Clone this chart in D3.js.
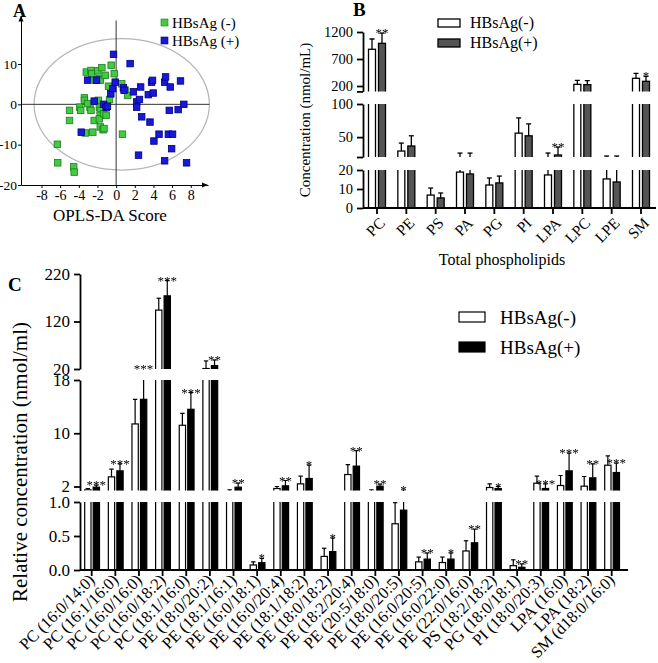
<!DOCTYPE html>
<html><head><meta charset="utf-8">
<script src="https://cdn.jsdelivr.net/npm/d3@7"></script>
<style>
body{margin:0;background:#fff}
svg{display:block}
text{font-family:"Liberation Serif","Times New Roman",serif;fill:#000}
.stars{filter:grayscale(100%)}
</style></head><body>
<svg id="c" width="658" height="663"></svg>
<script>
// ---------- Panel A data (OPLS-DA scores) ----------
const groupsA = ["HBsAg (-)", "HBsAg (+)"];
const greenX = [-6.3,-6.26,-4.55,-4.5,-5.0,-5.0,-3.9,-3.8,-3.4,-3.4,-3.3,-3.2,-2.7,-2.6,-2.8,-2.7,-2.5,-2.35,-2.25,-1.96,-1.78,-1.7,-1.53,-1.9,-1.8,-1.7,-1.7,-1.8,-1.7,-1.4,-1.3,-1.35,-1.07,-1.17,-0.82,-0.71,-0.53,-0.2,0.6,0.96,1.25,0.68,-3.06];
const greenY = [-9.9,-14.5,-15.5,-16.8,-1.5,-4.0,-0.7,-1.5,1.6,1.0,-7.1,8.0,8.4,7.6,-0.7,-1.5,-6.9,-4.0,6.0,8.3,6.4,6.0,9.1,1.0,-0.7,-1.5,-2.7,-3.6,-5.6,-6.3,-6.0,-2.3,-2.7,7.2,4.5,1.2,9.7,7.6,5.1,3.5,2.2,-7.4,0.2];
const blueX = [-0.28,1.5,-3.06,-2.1,-2.35,-1.35,-1.07,-0.93,-0.57,-0.36,-0.1,0.78,0.85,1.85,2.2,2.2,2.5,2.63,2.74,3.45,3.63,3.8,3.98,3.9,4.05,4.6,2.4,5.2,5.3,5.6,6.05,5.7,5.8,5.95,5.2,6.65,6.9,7.26,7.55,-3.74];
const blueY = [12.4,10.1,6.0,6.0,0.8,0,-0.8,-0.5,2.6,3.9,5.5,4.1,3.5,3.1,0.6,-0.7,1.2,4.3,-3.1,2.4,-4.4,5.5,2.8,5.95,-9.1,-7.4,-12.6,5.5,6.8,-7.4,-7.4,-1.5,4.3,-11,-14.0,-1.3,5.8,0,-14.5,-6.9];
const aXTicks = [-8,-6,-4,-2,0,2,4,6,8];
const aYTicks = [-20,-10,0,10];
const ellipseCenter = [0.6, 0];
const ellipseRadius = [9.4, 16.3];

// ---------- Panel B data (total phospholipids) ----------
const groupsB = ["HBsAg(-)", "HBsAg(+)"];
const bCats = ["PC","PE","PS","PA","PG","PI","LPA","LPC","LPE","SM"];
const bNegMean = [880, 29, 6.8, 18.9, 12.1, 56, 17.4, 230, 15.3, 342];
const bNegSD   = [190, 12, 3.7, 7, 3.7, 23, 8.6, 75, 6.2, 93];
const bPosMean = [990, 36.6, 5.3, 17.9, 13.2, 52, 23, 225, 13.7, 287];
const bPosSD   = [190, 15.4, 2.6, 8, 3.6, 18, 12, 75, 7.8, 93];
const bStars   = ["**","","","","","","**","","","*"];
const bTickVals = [[0,10,20],[20,50,100],[100,200,700,1200]];
const bTickText = [["0","10","20"],["","50","100"],["","200","700","1200"]];

// ---------- Panel C data (species) ----------
const groupsC = ["HBsAg(-)", "HBsAg(+)"];
const cCats = ["PC (16:0/14:0)","PC (16:1/16:0)","PC (16:0/16:0)","PC (16:0/18:2)","PC (18:1/16:0)",
  "PE (18:0/20:2)","PE (18:1/16:1)","PE (16:0/18:1)","PE (16:0/20:4)","PE (18:1/18:2)","PE (18:0/18:2)",
  "PE (18:2/20:4)","PE (20:5/18:0)","PE (18:0/20:5)","PE (16:0/20:5)","PE (16:0/22:0)","PE (22:0/16:0)",
  "PS (18:2/18:2)","PG (18:0/18:1)","PI (18:0/20:3)","LPA (16:0)","LPA (18:2)","SM (d18:0/16:0)"];
const cNegMean = [1.5,3.45,11.4,144,11.2,21,1.3,0.074,1.7,2.4,0.2,3.8,1.3,0.68,0.12,0.11,0.28,1.85,0.064,2.5,2.15,2.05,5.2];
const cNegSD   = [0.2,1.15,3.7,25,1.8,16,0.2,0.046,0.3,1.15,0.12,1.5,0.2,0.31,0.07,0.08,0.15,0.55,0.086,1.05,1.5,1.45,1.4];
const cPosMean = [1.9,4.35,15.1,174,13.6,27,1.9,0.107,2.1,3.2,0.27,5.06,2.05,0.88,0.16,0.16,0.40,1.7,0.04,1.7,4.35,3.3,4.1];
const cPosSD   = [0.3,1.05,4.9,32,2.5,12,0.6,0.063,0.8,2.0,0.2,2.34,0.3,0.57,0.09,0.09,0.20,0.3,0.05,0.7,2.65,2.1,1.4];
const cStars   = ["***","***","***","***","***","**","**","*","**","*","*","**","**","*","**","*","**","*","**","***","***","**","***"];
const cTickVals = [[0,0.5,1],[2,10,18],[20,120,220]];
const cTickText = [["0.0","0.5","1.0"],["2","10","18"],["20","120","220"]];

// ====================================================
const svg = d3.select("#c");
const defs = svg.append("defs");
const FONT = '"Liberation Serif","Times New Roman",serif';

function styleAxis(g, size){
  g.attr("font-family", FONT).attr("font-size", size);
  g.selectAll("text").attr("fill","#000");
}

// ---------- Panel A ----------
(function(){
  const g = svg.append("g");
  const x = d3.scaleLinear().domain([-10.2, 9.85]).range([21, 208]);
  const y = d3.scaleLinear().domain([-20, 22]).range([185, 15.6]);
  g.append("ellipse")
    .attr("cx", x(ellipseCenter[0])).attr("cy", y(ellipseCenter[1]))
    .attr("rx", x(ellipseRadius[0]) - x(0)).attr("ry", y(0) - y(ellipseRadius[1]))
    .attr("fill","none").attr("stroke","#b5b5b5").attr("stroke-width",1.2);
  g.append("line").attr("x1", x(-10.2)).attr("x2", x(10.0)).attr("y1", y(0)).attr("y2", y(0))
    .attr("stroke","#333").attr("stroke-width",1);
  g.append("line").attr("x1", x(0)).attr("x2", x(0)).attr("y1", y(-20)).attr("y2", y(20.8))
    .attr("stroke","#333").attr("stroke-width",1);
  const ay = g.append("g").attr("transform","translate(21,0)")
    .call(d3.axisLeft(y).tickValues(aYTicks).tickSize(3).tickSizeOuter(0).tickPadding(1).tickFormat(d=>String(d)));
  styleAxis(ay, 13.5);
  ay.selectAll("path,line").attr("stroke","#000");
  const ax = g.append("g").attr("transform","translate(0,185)")
    .call(d3.axisBottom(x).tickValues(aXTicks).tickSize(3).tickSizeOuter(0).tickPadding(2).tickFormat(d=>String(d)));
  styleAxis(ax, 14);
  ax.selectAll("path,line").attr("stroke","#000");
  // arrows
  g.append("path").attr("d", `M${21-2.5},${y(22)+6} L21,${y(22)} L${21+2.5},${y(22)+6} Z`).attr("fill","#000");
  g.append("path").attr("d", `M${208-6},${185-2.5} L208,185 L${208-6},${185+2.5} Z`).attr("fill","#000");
  const s = 6.5;
  g.selectAll(".gp").data(greenX.map((d,i)=>[d,greenY[i]])).join("rect")
    .attr("x", d=>x(d[0])-s/2).attr("y", d=>y(d[1])-s/2).attr("width",s).attr("height",s)
    .attr("fill","#3fcc3f").attr("stroke","#1f7a1f").attr("stroke-width",0.8);
  g.selectAll(".bp").data(blueX.map((d,i)=>[d,blueY[i]])).join("rect")
    .attr("x", d=>x(d[0])-s/2).attr("y", d=>y(d[1])-s/2).attr("width",s).attr("height",s)
    .attr("fill","#1818d8").attr("stroke","#000080").attr("stroke-width",0.8);
  // legend
  const lg = g.append("g");
  [["#3fcc3f","#1f7a1f"],["#1818d8","#000080"]].forEach((c,i)=>{
    lg.append("rect").attr("x",161).attr("y",19+i*18).attr("width",7).attr("height",7).attr("fill",c[0]).attr("stroke",c[1]).attr("stroke-width",0.6);
    lg.append("text").attr("x",172).attr("y",28+i*18).attr("font-size",15).text(groupsA[i]);
  });
  g.append("text").attr("x",110).attr("y",221).attr("text-anchor","middle").attr("font-size",17).text("OPLS-DA Score");
  g.append("text").attr("x",13).attr("y",17).attr("font-size",18).attr("font-weight","bold").text("A");
})();

// ---------- generic broken-axis bar panel ----------
function brokenPanel(o){
  const g = svg.append("g");
  const sc = o.segs.map(s => d3.scaleLinear().domain(s.d).range(s.r));
  const f = v => {
    for (let i=0;i<o.segs.length;i++){
      const s = o.segs[i];
      if (v < s.d[0]) {
        if (i===0) return sc[0](v);
        const p = o.segs[i-1], t = (v-p.d[1])/(s.d[0]-p.d[1]);
        return p.r[1] + t*(s.r[0]-p.r[1]);
      }
      if (v <= s.d[1] || i===o.segs.length-1) return sc[i](v);
    }
  };
  const xp = d3.scalePoint().domain(o.cats).range(o.xRange);
  const series = [
    {mean:o.negMean, sd:o.negSD, off:o.negOff, fill:"#fff"},
    {mean:o.posMean, sd:o.posSD, off:o.posOff, fill:o.posFill}
  ];
  o.segs.forEach((s,i)=>{
    const top = s.r[1], bot = s.r[0];
    const id = o.id + "clip" + i;
    defs.append("clipPath").attr("id", id).append("rect")
      .attr("x",0).attr("y",top).attr("width",658).attr("height",bot-top);
    const gg = g.append("g").attr("clip-path",`url(#${id})`);
    series.forEach(se=>{
      const idx = d3.range(o.cats.length).filter(j=>se.mean[j] > s.d[0]);
      gg.selectAll(null).data(idx).join("rect")
        .attr("x", j => xp(o.cats[j]) + se.off)
        .attr("y", j => Math.max(sc[i](se.mean[j]), top-6))
        .attr("width", o.barW)
        .attr("height", j => (i===0 ? bot : bot+6) - Math.max(sc[i](se.mean[j]), top-6))
        .attr("fill", se.fill).attr("stroke","#000").attr("stroke-width", o.sw);
      const eidx = d3.range(o.cats.length).filter(j=>se.mean[j]+se.sd[j] > s.d[0]);
      gg.selectAll(null).data(eidx).join("line")
        .attr("x1", j => xp(o.cats[j]) + se.off + o.barW/2).attr("x2", j => xp(o.cats[j]) + se.off + o.barW/2)
        .attr("y1", j => sc[i](se.mean[j])).attr("y2", j => sc[i](se.mean[j]+se.sd[j]))
        .attr("stroke","#000").attr("stroke-width", o.sw);
      gg.selectAll(null).data(eidx).join("line")
        .attr("x1", j => xp(o.cats[j]) + se.off + o.barW/2 - o.cap).attr("x2", j => xp(o.cats[j]) + se.off + o.barW/2 + o.cap)
        .attr("y1", j => sc[i](se.mean[j]+se.sd[j])).attr("y2", j => sc[i](se.mean[j]+se.sd[j]))
        .attr("stroke","#000").attr("stroke-width", o.sw);
    });
    // y axis segment
    const ax = g.append("g").attr("transform",`translate(${o.axisX},0)`)
      .call(d3.axisLeft(sc[i]).tickValues(o.tickVals[i]).tickSize(6).tickSizeOuter(0).tickPadding(4)
        .tickFormat((d,k)=>o.tickText[i][k]));
    styleAxis(ax, o.tickFont);
    ax.selectAll("path,line").attr("stroke","#000").attr("stroke-width",o.axisW);
  });
  // x axis
  g.append("line").attr("x1",o.axisX).attr("x2",o.xEnd).attr("y1",o.segs[0].r[0]).attr("y2",o.segs[0].r[0])
    .attr("stroke","#000").attr("stroke-width",o.axisW);
  g.selectAll(null).data(o.cats).join("line")
    .attr("x1", d=>xp(d)).attr("x2", d=>xp(d)).attr("y1", o.segs[0].r[0]).attr("y2", o.segs[0].r[0]+6)
    .attr("stroke","#000").attr("stroke-width",o.axisW);
  g.selectAll(null).data(o.cats).join("text")
    .attr("transform", d=>`translate(${xp(d)+o.lblDx},${o.segs[0].r[0]+o.lblDy}) rotate(-45)`)
    .attr("text-anchor","end").attr("font-size",o.lblFont).text(d=>d);
  // stars
  g.append("g").attr("class","stars")
    .selectAll(null).data(d3.range(o.cats.length).filter(j=>o.stars[j])).join("text")
    .attr("x", j => xp(o.cats[j]) + o.posOff + o.barW/2)
    .attr("y", j => f(o.posMean[j]+o.posSD[j]) + 4)
    .attr("text-anchor","middle").attr("font-size",o.starFont).attr("fill","#000").text(j=>o.stars[j]);
  return g;
}

// ---------- Panel B ----------
brokenPanel({
  id:"B", cats:bCats, negMean:bNegMean, negSD:bNegSD, posMean:bPosMean, posSD:bPosSD, stars:bStars,
  segs:[{d:[0,20], r:[208,170]},{d:[20,100], r:[157,104]},{d:[100,1200], r:[91.4,32]}],
  tickVals:bTickVals, tickText:bTickText, tickFont:14.5,
  xRange:[377,641], axisX:363, xEnd:656, barW:7, negOff:-8.5, posOff:1.5, posFill:"#555",
  sw:1.3, cap:2.5, axisW:1.8, lblDx:9, lblDy:16, lblFont:15.5, starFont:13
});
svg.append("text").attr("transform","translate(310,120) rotate(-90)").attr("text-anchor","middle")
  .attr("font-size",15).text("Concentration (nmol/mL)");
svg.append("text").attr("x",502).attr("y",265).attr("text-anchor","middle").attr("font-size",16).text("Total phospholipids");
svg.append("text").attr("x",353).attr("y",16).attr("font-size",19).attr("font-weight","bold").text("B");
[["#fff"],["#555"]].forEach((c,i)=>{
  svg.append("rect").attr("x",438).attr("y",19+i*20).attr("width",22).attr("height",8).attr("fill",c[0]).attr("stroke","#000").attr("stroke-width",1.3);
  svg.append("text").attr("x",470).attr("y",28+i*20).attr("font-size",16).text(groupsB[i]);
});

// ---------- Panel C ----------
brokenPanel({
  id:"C", cats:cCats, negMean:cNegMean, negSD:cNegSD, posMean:cPosMean, posSD:cPosSD, stars:cStars,
  segs:[{d:[0,1], r:[570,502]},{d:[1.4,18], r:[490.5,380]},{d:[20,220], r:[369,274]}],
  tickVals:cTickVals, tickText:cTickText, tickFont:17,
  xRange:[91.7,611.7], axisX:80, xEnd:628, barW:6.3, negOff:-7, posOff:1.5, posFill:"#000",
  sw:1.2, cap:2.2, axisW:1.8, lblDx:4, lblDy:11, lblFont:16.5, starFont:13
});
svg.append("text").attr("transform","translate(27,462) rotate(-90)").attr("text-anchor","middle")
  .attr("font-size",21).text("Relative concentration (nmol/ml)");
svg.append("text").attr("x",8).attr("y",291).attr("font-size",19).attr("font-weight","bold").text("C");
[["#fff"],["#000"]].forEach((c,i)=>{
  svg.append("rect").attr("x",459).attr("y",312+i*30).attr("width",26).attr("height",10).attr("fill",c[0]).attr("stroke","#000").attr("stroke-width",1.2);
  svg.append("text").attr("x",500).attr("y",324+i*30).attr("font-size",19).text(groupsC[i]);
});
</script>
</body></html>
